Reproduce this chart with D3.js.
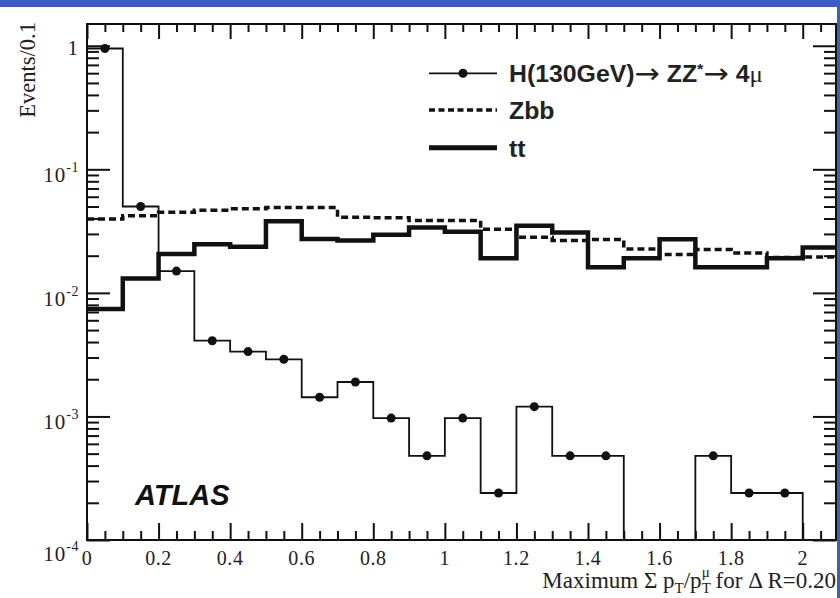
<!DOCTYPE html>
<html><head><meta charset="utf-8">
<script src="https://cdn.jsdelivr.net/npm/d3@7"></script>
<style>body{margin:0;background:#fff}svg{display:block}</style>
</head><body>
<svg id="c" width="840" height="598"></svg>
<script>
// ---- data ----
const binLow = [0.0,0.1,0.2,0.3,0.4,0.5,0.6,0.7,0.8,0.9,1.0,1.1,1.2,1.3,1.4,1.5,1.6,1.7,1.8,1.9,2.0];
const binWidth = 0.1;
const higgs = [0.95,0.05,0.015,0.0041,0.00335,0.0029,0.00143,0.0019,0.00097,0.00048,0.00097,0.00024,0.0012,0.00048,0.00048,0,0,0.00048,0.00024,0.00024,0];
const zbb   = [0.0397,0.042,0.045,0.0466,0.048,0.049,0.049,0.041,0.0406,0.0386,0.0386,0.0327,0.0282,0.0266,0.0271,0.0227,0.0204,0.0224,0.021,0.0193,0.0195];
const ttbar = [0.0074,0.0131,0.0206,0.0248,0.0236,0.038,0.0273,0.0266,0.0295,0.0338,0.0312,0.0191,0.0349,0.0308,0.0161,0.0191,0.0272,0.0161,0.0161,0.0191,0.0233];
const xMajorTicks = [0,0.2,0.4,0.6,0.8,1,1.2,1.4,1.6,1.8,2];
const xTickLabels = ["0","0.2","0.4","0.6","0.8","1","1.2","1.4","1.6","1.8","2"];
const yMajorTicks = [1e-4,1e-3,1e-2,1e-1,1];
const yTickBase = ["10","10","10","10","1"];
const yTickExp  = ["-4","-3","-2","-1",""];
const legendLabels = ["H(130GeV)","Zbb","tt"];

// ---- layout ----
const L = 87, R = 836, T = 24, B = 540;
const svg = d3.select("#c");
const x = d3.scaleLinear().domain([0, 2.093]).range([L, R]);
const y = d3.scaleLog().domain([1e-4, 1.5]).range([B, T]).clamp(true);
const yv = v => v > 0 ? y(v) : B + 20;

// blue decoration
svg.append("rect").attr("x",0).attr("y",0).attr("width",840).attr("height",7).attr("fill","#3B5DC9");
svg.append("rect").attr("x",837).attr("y",0).attr("width",3).attr("height",598).attr("fill","#3B5DC9");

svg.append("defs").append("clipPath").attr("id","pc")
  .append("rect").attr("x",L).attr("y",T).attr("width",R-L).attr("height",B-T);

const ink = "#111";
const minorX = d3.range(0, 2.1, 0.05).map(v => +v.toFixed(2)).filter(v => Math.abs(v*5 - Math.round(v*5)) > 1e-6);
const minorY = [];
[1e-4,1e-3,1e-2,1e-1].forEach(d => { for (let k=2;k<=9;k++) minorY.push(k*d); });

function styleAxis(g){ g.select(".domain").remove(); g.selectAll("line").attr("stroke",ink).attr("stroke-width",2); g.selectAll("text").remove(); }
svg.append("g").attr("transform",`translate(0,${B})`).call(d3.axisBottom(x).tickValues(xMajorTicks).tickSize(-17)).call(styleAxis);
svg.append("g").attr("transform",`translate(0,${B})`).call(d3.axisBottom(x).tickValues(minorX).tickSize(-9)).call(styleAxis);
svg.append("g").attr("transform",`translate(0,${T})`).call(d3.axisTop(x).tickValues(xMajorTicks).tickSize(-15)).call(styleAxis);
svg.append("g").attr("transform",`translate(0,${T})`).call(d3.axisTop(x).tickValues(minorX).tickSize(-8)).call(styleAxis);
svg.append("g").attr("transform",`translate(${L},0)`).call(d3.axisLeft(y).tickValues(yMajorTicks).tickSize(-23)).call(styleAxis);
svg.append("g").attr("transform",`translate(${L},0)`).call(d3.axisLeft(y).tickValues(minorY).tickSize(-12)).call(styleAxis);
svg.append("g").attr("transform",`translate(${R},0)`).call(d3.axisRight(y).tickValues(yMajorTicks).tickSize(-23)).call(styleAxis);
svg.append("g").attr("transform",`translate(${R},0)`).call(d3.axisRight(y).tickValues(minorY).tickSize(-12)).call(styleAxis);

// tick labels
const serif = "'Liberation Serif','Times New Roman',serif";
const sans = "'Liberation Sans',Arial,sans-serif";
svg.append("g").selectAll("text").data(xMajorTicks).join("text")
  .attr("x", d => x(d)).attr("y", 565).attr("text-anchor","middle")
  .attr("font-family", serif).attr("font-size", 20).attr("letter-spacing", 0.6).attr("fill","#222")
  .text((d,i) => xTickLabels[i]);
const yl = svg.append("g").selectAll("text").data(yMajorTicks).join("text")
  .attr("x", 79).attr("y", (d,i) => y(d) + (i===0 ? 21 : (i===4 ? 9 : 13)))
  .attr("text-anchor","end").attr("font-family", serif).attr("font-size", 21).attr("letter-spacing", 1).attr("fill","#222");
yl.append("tspan").text((d,i) => yTickBase[i]);
yl.append("tspan").attr("dy",-10).attr("font-size",14).attr("letter-spacing", 0.5).text((d,i) => yTickExp[i]);

// axis titles
const xt = svg.append("text").attr("x", 836).attr("y", 588).attr("text-anchor","end")
  .attr("font-family", serif).attr("font-size", 23).attr("fill","#222");
xt.append("tspan").text("Maximum Σ p");
xt.append("tspan").attr("dy",5).attr("font-size",15).text("T");
xt.append("tspan").attr("dy",-5).text("/p");
xt.append("tspan").attr("dy",5).attr("font-size",15).text("T");
xt.append("tspan").attr("dx",-9).attr("dy",-16).attr("font-size",15).text("μ");
xt.append("tspan").attr("dy",11).text(" for Δ R=0.20");

svg.append("text").attr("transform","translate(35,22) rotate(-90)").attr("text-anchor","end")
  .attr("font-family", serif).attr("font-size", 22.5).attr("fill","#222").text("Events/0.1");

// histograms
const stepPts = vals => vals.flatMap((v,i) => [[binLow[i], v], [binLow[i] + binWidth, v]]);
const line = d3.line().x(d => x(d[0])).y(d => yv(d[1]));
const plot = svg.append("g").attr("clip-path","url(#pc)");
plot.append("path").attr("d", line(stepPts(zbb))).attr("fill","none").attr("stroke",ink)
  .attr("stroke-width",3.5).attr("stroke-dasharray","7,4");
plot.append("path").attr("d", line(stepPts(ttbar))).attr("fill","none").attr("stroke",ink)
  .attr("stroke-width",4.5);
plot.append("path").attr("d", line(stepPts(higgs))).attr("fill","none").attr("stroke",ink)
  .attr("stroke-width",1.8);
plot.selectAll("circle").data(higgs.map((v,i)=>({v,i})).filter(d => d.v > 0)).join("circle")
  .attr("cx", d => x(binLow[d.i] + binWidth/2)).attr("cy", d => y(d.v)).attr("r", 4.5).attr("fill", ink);

// frame
svg.append("rect").attr("x",L).attr("y",T).attr("width",R-L).attr("height",B-T)
  .attr("fill","none").attr("stroke",ink).attr("stroke-width",2);

// legend
const lg = svg.append("g");
const lx0 = 429, lx1 = 497, ly = [73.3, 110, 147.7];
lg.append("line").attr("x1",lx0).attr("x2",lx1).attr("y1",ly[0]).attr("y2",ly[0]).attr("stroke",ink).attr("stroke-width",1.8);
lg.append("circle").attr("cx",(lx0+lx1)/2).attr("cy",ly[0]).attr("r",4.5).attr("fill",ink);
lg.append("line").attr("x1",lx0).attr("x2",lx1).attr("y1",ly[1]).attr("y2",ly[1]).attr("stroke",ink).attr("stroke-width",3.5).attr("stroke-dasharray","6,3.5");
lg.append("line").attr("x1",lx0).attr("x2",lx1).attr("y1",ly[2]).attr("y2",ly[2]).attr("stroke",ink).attr("stroke-width",5);
const sx = 1.08;
const mk = yy => lg.append("text").attr("transform",`translate(509,${yy+9}) scale(${sx},1)`)
  .attr("font-family",sans).attr("font-size",23).attr("font-weight","bold").attr("fill","#222");
const arrowFont = "'DejaVu Sans',sans-serif";
const t0 = mk(ly[0]);
t0.append("tspan").text(legendLabels[0]);
t0.append("tspan").attr("font-family",arrowFont).attr("font-weight","normal").attr("font-size",28).attr("dy",1).text("→");
t0.append("tspan").attr("dy",-1).text(" ZZ");
t0.append("tspan").attr("dy",-8).attr("font-size",15).text("*");
t0.append("tspan").attr("dy",9).attr("font-family",arrowFont).attr("font-weight","normal").attr("font-size",28).text("→");
t0.append("tspan").attr("dy",-1).text(" 4");
t0.append("tspan").attr("font-family",serif).attr("font-weight","normal").text("μ");
mk(ly[1]).text(legendLabels[1]);
mk(ly[2]).text(legendLabels[2]);

// ATLAS label
svg.append("text").attr("x",135).attr("y",505).attr("font-family",sans).attr("font-size",29)
  .attr("font-weight","bold").attr("font-style","italic").attr("fill","#111").text("ATLAS");
</script>
</body></html>
